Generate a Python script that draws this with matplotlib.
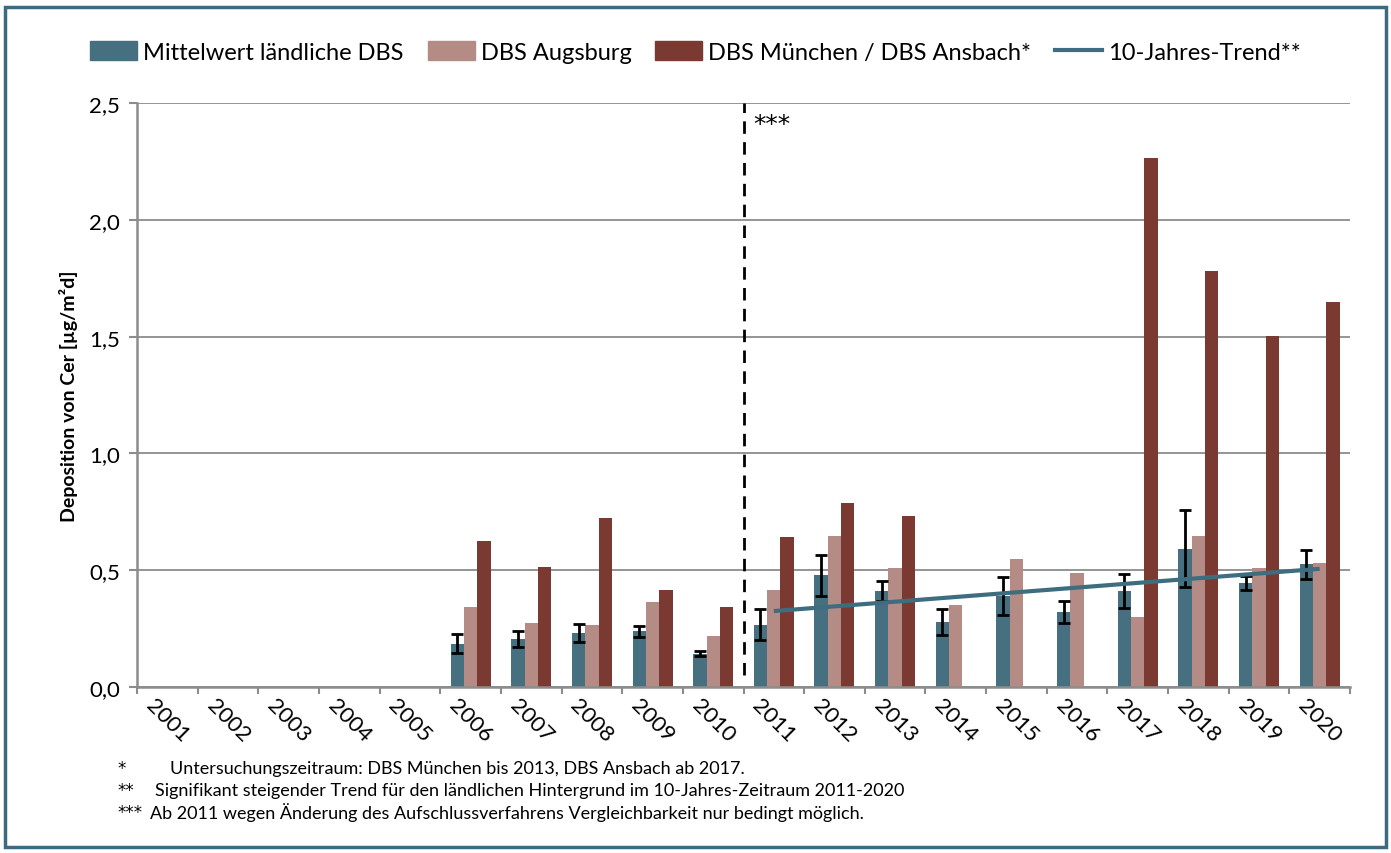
import numpy as np
import matplotlib
matplotlib.use("Agg")
import matplotlib.pyplot as plt
from matplotlib.patches import Rectangle, Patch
from matplotlib.lines import Line2D

# data
years = [str(y) for y in range(2001, 2021)]
laendlich = [np.nan] * 5 + [0.185, 0.205, 0.232, 0.238, 0.143,
                            0.267, 0.478, 0.410, 0.278, 0.390,
                            0.320, 0.410, 0.592, 0.445, 0.526]
laendlich_err = [np.nan] * 5 + [0.040, 0.034, 0.038, 0.025, 0.011,
                                0.065, 0.088, 0.042, 0.054, 0.082,
                                0.047, 0.073, 0.165, 0.030, 0.062]
augsburg = [np.nan] * 5 + [0.343, 0.273, 0.264, 0.364, 0.218,
                           0.416, 0.645, 0.510, 0.352, 0.546,
                           0.488, 0.299, 0.645, 0.510, 0.531]
muenchen = [np.nan] * 5 + [0.625, 0.515, 0.724, 0.416, 0.342,
                           0.641, 0.787, 0.730, np.nan, np.nan,
                           np.nan, 2.265, 1.780, 1.502, 1.648]
trend_years = ["2011", "2020"]
trend_vals = [0.325, 0.506]

labels = ["Mittelwert ländliche DBS", "DBS Augsburg",
          "DBS München / DBS Ansbach*", "10-Jahres-Trend**"]
footnotes = [
    ("*", "Untersuchungszeitraum: DBS München bis 2013, DBS Ansbach ab 2017."),
    ("**", "Signifikant steigender Trend für den ländlichen Hintergrund im 10-Jahres-Zeitraum 2011-2020"),
    ("***", "Ab 2011 wegen Änderung des Aufschlussverfahrens Vergleichbarkeit nur bedingt möglich."),
]
footnote_x = [170, 155, 150]

c_blue = "#46707f"
c_augs = "#b58c85"
c_muc = "#7b3a31"
c_grid = "#8c8c8c"

plt.rcParams['font.family'] = ['Lato', 'DejaVu Sans']

fig = plt.figure(figsize=(13.91, 8.54), dpi=100)
ax = fig.add_axes([137 / 1391, 1 - 688 / 854, (1350 - 137) / 1391, (688 - 104) / 854])

x = np.arange(len(years))
w = 0.22
ax.bar(x - w, laendlich, w, color=c_blue, zorder=2)
ax.bar(x, augsburg, w, color=c_augs, zorder=2)
ax.bar(x + w, muenchen, w, color=c_muc, zorder=2)
ax.errorbar(x - w, laendlich, yerr=laendlich_err, fmt="none", ecolor="black",
            elinewidth=2, capsize=4.5, capthick=2, zorder=3)

tx = [years.index(t) for t in trend_years]
ax.plot(tx, trend_vals, color="#3f6d80", lw=3, solid_capstyle="butt", zorder=4)

# method change marker
ax.plot([9.5, 9.5], [0.05, 2.5], color="black", lw=2, ls=(0, (4.5, 3)), zorder=4)
ax.text(9.67, 2.41, "***", fontsize=18, va="center", ha="left",
        family="DejaVu Sans")

ax.set_xlim(-0.5, len(years) - 0.5)
ax.set_ylim(0, 2.5)
ax.set_yticks(np.arange(0, 2.51, 0.5))
ax.set_yticklabels([f"{v:.1f}".replace(".", ",") for v in np.arange(0, 2.51, 0.5)], fontsize=16)
ax.yaxis.grid(True, color=c_grid, lw=1.3, zorder=0)

ax.set_xticks(np.arange(-0.5, len(years)), minor=False)
ax.set_xticklabels([])
ax.set_xticks(x, minor=True)
ax.set_xticklabels(years, minor=True, rotation=-45, ha="center", va="center",
                   rotation_mode="anchor", fontsize=16)
ax.tick_params(axis="x", which="minor", length=0, pad=24)
ax.tick_params(axis="x", which="major", length=5, width=1.5, color=c_grid)
ax.tick_params(axis="y", length=6, width=1.5, color=c_grid, pad=6)

for s in ["top", "right"]:
    ax.spines[s].set_visible(False)
for s in ["left", "bottom"]:
    ax.spines[s].set_color(c_grid)
    ax.spines[s].set_linewidth(1.8)

ax.set_ylabel("Deposition von Cer [µg/m²d]", fontsize=14, fontweight="bold", labelpad=8)

handles = [Patch(color=c_blue), Patch(color=c_augs), Patch(color=c_muc),
           Line2D([], [], color="#3f6d80", lw=3)]
fig.legend(handles, labels, loc="center", bbox_to_anchor=(0.5, 1 - 53 / 854), ncol=4,
           frameon=False, fontsize=17, handlelength=2.0, handleheight=0.85,
           handletextpad=0.25, columnspacing=1.0)

for i, (mark, txt) in enumerate(footnotes):
    y = 1 - (769 + 22 * i) / 854
    fig.text(117 / 1391, y, mark, fontsize=12, va="center", family="DejaVu Sans")
    fig.text(footnote_x[i] / 1391, y, txt, fontsize=13, va="center")

# outer frame
fig.patches.append(Rectangle((5 / 1391, 6 / 854), 1381 / 1391, 840 / 854,
                             transform=fig.transFigure, fill=False,
                             edgecolor="#3c6a80", lw=2.5))

fig.savefig("out.png", dpi=100)
